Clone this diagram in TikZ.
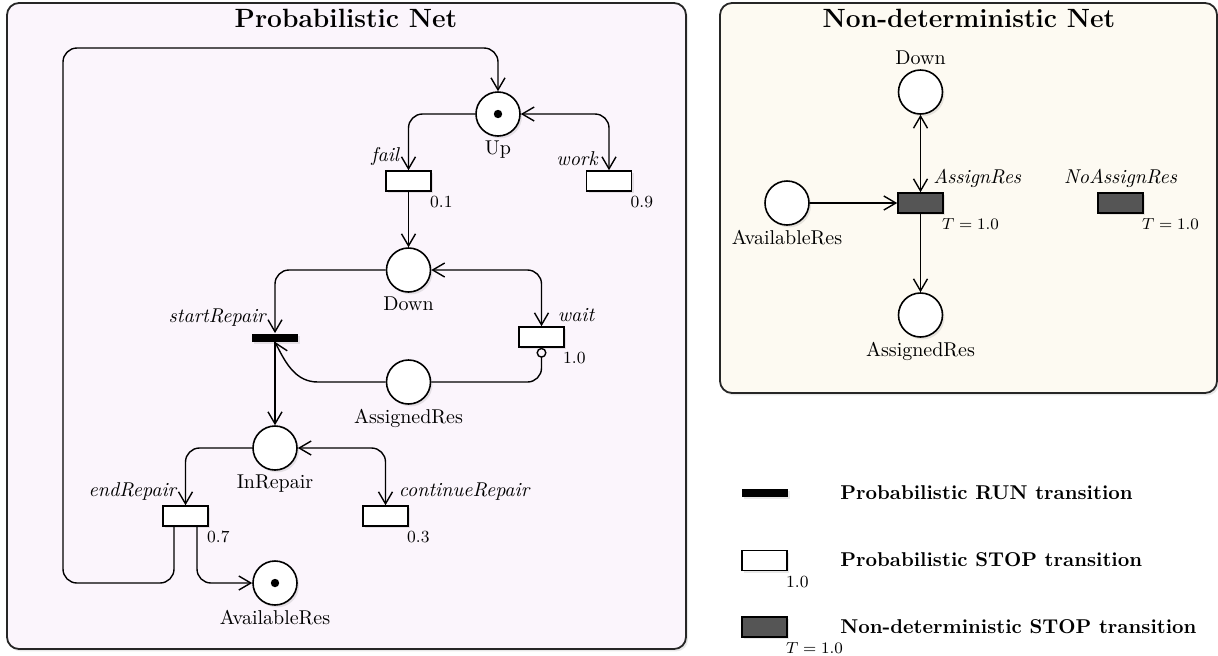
\documentclass[tikz,border=0pt]{standalone}
\usetikzlibrary{arrows.meta,shadows,calc}
\definecolor{probbg}{RGB}{251,245,252}
\definecolor{ndbg}{RGB}{253,250,242}
\definecolor{ndfill}{RGB}{85,85,85}
\begin{document}
\begin{tikzpicture}[x=0.5pt,y=-0.5pt,
  shad/.style={drop shadow={opacity=0.18,shadow xshift=1pt,shadow yshift=-1.2pt}},
  panel/.style={draw=black!85, line width=0.9pt, rounded corners=6pt, shad},
  placen/.style={circle, draw, line width=0.8pt, fill=white, minimum size=22pt, inner sep=0pt, shad},
  ptrans/.style={rectangle, draw, line width=0.8pt, fill=white, minimum width=22.5pt, minimum height=10pt, inner sep=0pt, shad},
  runtrans/.style={rectangle, fill=black, minimum width=23pt, minimum height=4pt, inner sep=0pt, shad},
  ndtrans/.style={rectangle, draw, line width=0.8pt, fill=ndfill, minimum width=22.5pt, minimum height=10pt, inner sep=0pt, shad},
  tok/.style={circle, fill=black, minimum size=4.2pt, inner sep=0pt},
  flow/.style={line width=0.7pt, rounded corners=7pt},
  arr/.style={-{Straight Barb[length=6pt,width=7pt]}},
  arrtwo/.style={{Straight Barb[length=6pt,width=7pt]}-{Straight Barb[length=6pt,width=7pt]}},
  inhib/.style={-{Circle[open,length=5pt,width=5pt]}},
  tlab/.style={font=\itshape, inner sep=2pt},
  plab/.style={inner sep=2pt},
  prob/.style={font=\fontsize{8.5}{10}\selectfont, anchor=north west, inner sep=1pt, xshift=-2pt, yshift=-1pt},
  ttl/.style={font=\fontsize{13.2}{16}\selectfont\bfseries},
  legtext/.style={font=\bfseries, anchor=west, inner sep=0pt}
]
\useasboundingbox (0,0) rectangle (1218,655);

% panels
\draw[panel, fill=probbg] (7,3) rectangle (686,649);
\draw[panel, fill=ndbg] (720,3) rectangle (1217,393);
\node[ttl] (title1) at (346,18) {Probabilistic Net};
\node[ttl] (title2) at (969,18) {Non-deterministic Net};

% ---------- Probabilistic net ----------
\node[placen] (pUp) at (498,114) {};
\node[tok] (tokUp) at (pUp) {};
\node[plab, anchor=north] (lUp) at (pUp.south) {Up};

\node[ptrans] (tFail) at (408.5,181) {};
\node[ptrans] (tWork) at (609,181) {};
\node[tlab, anchor=south east] (lFail) at ([xshift=-2.5pt]tFail.north) {fail};
\node[tlab, anchor=south east] (lWork) at ([xshift=-3.5pt]tWork.north) {work};
\node[prob] (prFail) at (tFail.south east) {0.1};
\node[prob] (prWork) at (tWork.south east) {0.9};

\node[placen] (pDown) at (408.5,270) {};
\node[plab, anchor=north] (lDown) at (pDown.south) {Down};

\node[runtrans] (tStart) at (275,337.5) {};
\node[tlab, anchor=south east] (lStart) at ([xshift=-2.5pt,yshift=1pt]tStart.north) {startRepair};

\node[ptrans] (tWait) at (541.5,337) {};
\node[tlab, anchor=south west] (lWait) at ([xshift=6pt]tWait.north) {wait};
\node[prob] (prWait) at (tWait.south east) {1.0};

\node[placen] (pAssigned) at (408.5,382) {};
\node[plab, anchor=north] (lAssigned) at (pAssigned.south) {AssignedRes};

\node[placen] (pInRepair) at (275,448) {};
\node[plab, anchor=north] (lInRepair) at (pInRepair.south) {InRepair};

\node[ptrans] (tEnd) at (185.5,516) {};
\node[ptrans] (tCont) at (385.5,516) {};
\node[tlab, anchor=south east] (lEnd) at ([xshift=-2.5pt]tEnd.north) {endRepair};
\node[tlab, anchor=south west] (lCont) at ([xshift=4.5pt]tCont.north) {continueRepair};
\node[prob] (prEnd) at (tEnd.south east) {0.7};
\node[prob] (prCont) at (tCont.south east) {0.3};

\node[placen] (pAvail) at (275,583) {};
\node[tok] (tokAvail) at (pAvail) {};
\node[plab, anchor=north] (lAvail) at (pAvail.south) {AvailableRes};

\coordinate (loopBL) at (63,583);
\coordinate (loopTL) at (63,48);
\coordinate (curveStart) at (318,382);

% arcs
\draw[flow, arr] (pUp.west) -| (tFail.north);
\draw[flow, arrtwo] (pUp.east) -| (tWork.north);
\draw[flow, arr] (tFail.south) -- (pDown.north);
\draw[flow, arr] (pDown.west) -| (tStart.north);
\draw[flow, arrtwo] (pDown.east) -| (tWait.north);
\draw[line width=0.7pt, arr] (pAssigned.west) -- (curveStart) .. controls (296,382) and (286,364) .. (tStart.south);
\draw[flow, inhib] (pAssigned.east) -| (tWait.south);
\draw[flow, arr] (tStart.south) -- (pInRepair.north);
\draw[flow, arr] (pInRepair.west) -| (tEnd.north);
\draw[flow, arrtwo] (pInRepair.east) -| (tCont.north);
\draw[flow, arr] ([xshift=5.75pt]tEnd.south) |- (pAvail.west);
\draw[flow, arr] ([xshift=-5.75pt]tEnd.south) |- (loopBL) -- (loopTL) -| (pUp.north);

% ---------- Non-deterministic net ----------
\node[placen] (nDown) at (920.5,92) {};
\node[plab, anchor=south] (lnDown) at (nDown.north) {Down};
\node[ndtrans] (nAssign) at (920.5,203) {};
\node[tlab, anchor=south west] (lnAssign) at ([xshift=4.25pt]nAssign.north) {AssignRes};
\node[prob] (tnAssign) at (nAssign.south east) {$T = 1.0$};
\node[placen] (nAvail) at (787,203) {};
\node[plab, anchor=north] (lnAvail) at (nAvail.south) {AvailableRes};
\node[placen] (nAssigned) at (920.5,315) {};
\node[plab, anchor=north] (lnAssigned) at (nAssigned.south) {AssignedRes};
\node[ndtrans] (nNoAssign) at (1120.5,203) {};
\node[tlab, anchor=south] (lnNoAssign) at (nNoAssign.north) {NoAssignRes};
\node[prob] (tnNoAssign) at (nNoAssign.south east) {$T = 1.0$};

\draw[flow, arr] (nAvail.east) -- (nAssign.west);
\draw[flow, arrtwo] (nDown.south) -- (nAssign.north);
\draw[flow, arr] (nAssign.south) -- (nAssigned.north);

% ---------- Legend ----------
\node[runtrans] (legRun) at (764.5,493) {};
\node[legtext] (legRunTxt) at (840,493) {Probabilistic RUN transition};
\node[ptrans] (legStop) at (764.5,560.5) {};
\node[prob] (legStopP) at (legStop.south east) {1.0};
\node[legtext] (legStopTxt) at (840,560) {Probabilistic STOP transition};
\node[ndtrans] (legNd) at (764.5,627) {};
\node[prob] (legNdP) at (legNd.south east) {$T = 1.0$};
\node[legtext] (legNdTxt) at (840,627) {Non-deterministic STOP transition};
\end{tikzpicture}
\end{document}
